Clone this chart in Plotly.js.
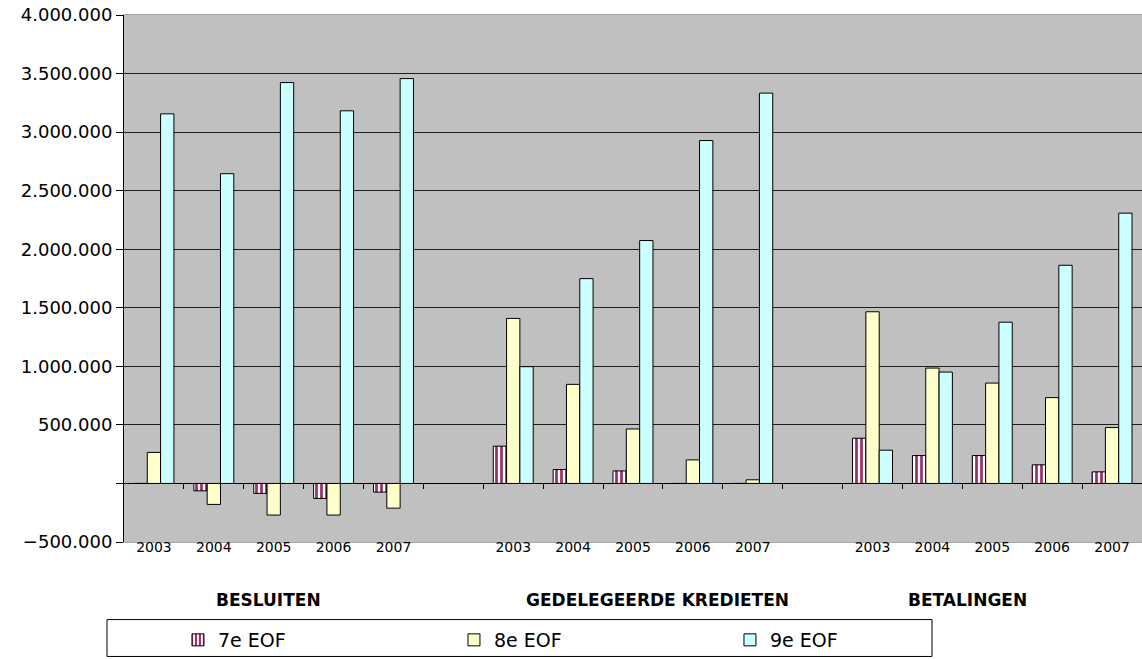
<!DOCTYPE html>
<html>
<head>
<meta charset="utf-8">
<script src="https://cdn.plot.ly/plotly-3.0.1.min.js"></script>
<style>html,body{margin:0;padding:0;background:#fff;}#chart{width:1142px;height:659px;}</style>
</head>
<body>
<div id="chart"></div>
<script>
// ---- data ----
var years = ['2003', '2004', '2005', '2006', '2007'];
var groups = ['BESLUITEN', 'GEDELEGEERDE KREDIETEN', 'BETALINGEN'];
var seriesNames = ['7e EOF', '8e EOF', '9e EOF'];

// values per group, year order 2003..2007
var eof7_besluiten = [0, -63000, -85000, -128000, -74000];
var eof8_besluiten = [265000, -179000, -270000, -270000, -211000];
var eof9_besluiten = [3156000, 2645000, 3423000, 3182000, 3457000];

var eof7_gedelegeerd = [318000, 119000, 107000, 0, 0];
var eof8_gedelegeerd = [1409000, 846000, 465000, 201000, 31000];
var eof9_gedelegeerd = [997000, 1749000, 2074000, 2928000, 3333000];

var eof7_betalingen = [386000, 238000, 238000, 159000, 99000];
var eof8_betalingen = [1466000, 985000, 857000, 733000, 477000];
var eof9_betalingen = [284000, 951000, 1377000, 1863000, 2308000];

var yTicks = [-500000, 0, 500000, 1000000, 1500000, 2000000, 2500000, 3000000, 3500000, 4000000];

// ---- build ----
var slotsPerGroup = years.length + 1; // one empty slot between groups
var xPos = [], xText = [];
groups.forEach(function (g, gi) {
  years.forEach(function (y, yi) {
    xPos.push(gi * slotsPerGroup + yi);
    xText.push(y);
  });
});
var nSlots = groups.length * slotsPerGroup - 1;

var s7 = eof7_besluiten.concat(eof7_gedelegeerd, eof7_betalingen);
var s8 = eof8_besluiten.concat(eof8_gedelegeerd, eof8_betalingen);
var s9 = eof9_besluiten.concat(eof9_gedelegeerd, eof9_betalingen);

function fmt(v) {
  if (v === 0) return '';
  var s = Math.abs(v).toString().replace(/\B(?=(\d{3})+(?!\d))/g, '.');
  return (v < 0 ? '\u2212' : '') + s;
}
var yTickText = yTicks.map(fmt);

var boundaries = [];
for (var b = 0; b < nSlots - 1; b++) boundaries.push(b + 0.5);

var FONT = 'DejaVu Sans, Verdana, sans-serif';
var lineStyle = {color: '#000000', width: 1};

var traces = [
  {type: 'bar', name: seriesNames[0], x: xPos, y: s7,
   marker: {color: '#ffffff', line: lineStyle,
            pattern: {shape: '|', fgcolor: '#993366', bgcolor: '#ffffff', size: 5, solidity: 0.55, fillmode: 'replace'}}},
  {type: 'bar', name: seriesNames[1], x: xPos, y: s8,
   marker: {color: '#FFFFCC', line: lineStyle}},
  {type: 'bar', name: seriesNames[2], x: xPos, y: s9,
   marker: {color: '#CCFFFF', line: lineStyle}},
  // empty helper trace so that the category-axis tick marks on the zero line get drawn
  {type: 'scatter', x: [], y: [], xaxis: 'x2', yaxis: 'y', showlegend: false, hoverinfo: 'skip'}
];

var groupShift = [-5, 24, -25];
var annotations = groups.map(function (g, gi) {
  return {text: '<b>' + g + '</b>', xref: 'x', yref: 'paper',
          x: gi * slotsPerGroup + (years.length - 1) / 2, xshift: groupShift[gi],
          y: -0.11, xanchor: 'center', yanchor: 'middle', showarrow: false,
          font: {family: FONT, size: 17, color: '#000'}};
});

var layout = {
  width: 1142, height: 659,
  margin: {l: 124, r: 0, t: 15, b: 116, pad: 0},
  paper_bgcolor: '#ffffff',
  plot_bgcolor: '#C0C0C0',
  separators: ',.',
  font: {family: FONT, color: '#000', size: 14},
  barmode: 'group',
  bargap: 0.333,
  bargroupgap: 0,
  showlegend: true,
  legend: {orientation: 'h', x: 0.053, xanchor: 'left', y: -0.1856, yanchor: 'middle',
           bgcolor: 'rgba(0,0,0,0)', borderwidth: 0, entrywidth: 231, entrywidthmode: 'pixels',
           font: {family: FONT, size: 19, color: '#000'}, traceorder: 'normal'},
  xaxis: {range: [-0.5, nSlots - 0.5], tickmode: 'array', tickvals: xPos, ticktext: xText,
          ticks: '', showgrid: false, zeroline: false, showline: true, linecolor: '#a8a8a8',
          mirror: true, linewidth: 1, ticklabelstandoff: -8,
          tickfont: {family: FONT, size: 14, color: '#000'}},
  xaxis2: {overlaying: 'x', anchor: 'free', position: 500000 / 4500000, side: 'bottom',
           range: [-0.5, nSlots - 0.5], tickmode: 'array', tickvals: boundaries,
           ticks: 'outside', ticklen: 5, tickcolor: '#000', tickwidth: 1,
           showticklabels: false, showgrid: false, zeroline: false, showline: false},
  yaxis: {range: [-500000, 4000000], tickmode: 'array', tickvals: yTicks, ticktext: yTickText,
          showgrid: true, gridcolor: '#1e1e1e', gridwidth: 1,
          zeroline: true, zerolinecolor: '#000', zerolinewidth: 1,
          showline: true, linecolor: '#000', linewidth: 1,
          ticks: 'outside', ticklen: 7, tickcolor: '#000',
          tickfont: {family: FONT, size: 18, color: '#000'}},
  shapes: [{type: 'rect', xref: 'paper', yref: 'paper',
            x0: (107 - 124) / 1018, x1: (932 - 124) / 1018,
            y0: -0.1472, y1: -0.2172,
            line: {color: '#000', width: 1}, fillcolor: 'rgba(0,0,0,0)'}],
  annotations: annotations
};

Plotly.newPlot('chart', traces, layout, {staticPlot: true, displayModeBar: false});
</script>
</body>
</html>
